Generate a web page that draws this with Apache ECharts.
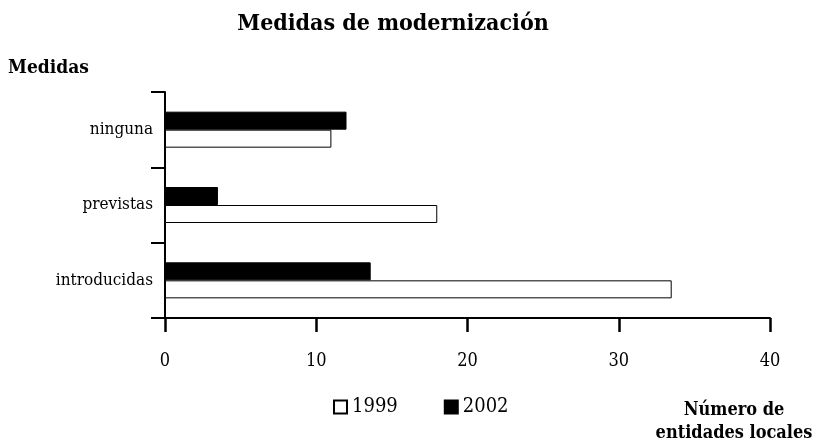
<!DOCTYPE html>
<html><head><meta charset="utf-8">
<script src="https://cdn.jsdelivr.net/npm/echarts@6/dist/echarts.min.js"></script>
<style>html,body{margin:0;padding:0;background:#fff}#c{width:814px;height:444px}</style>
</head><body><div id="c"></div>
<script>
var categories = ['introducidas', 'previstas', 'ninguna'];
var values1999 = [33.5, 18, 11];
var values2002 = [13.6, 3.5, 12];
var xTicks = [0, 10, 20, 30, 40];

var serif = '"DejaVu Serif Condensed", "DejaVu Serif", serif';
var chart = echarts.init(document.getElementById('c'));
chart.setOption({
  animation: false,
  backgroundColor: '#fff',
  title: [
    { text: 'Medidas de modernización', left: 388, top: 8, textAlign: 'center',
      textStyle: { fontFamily: serif, fontWeight: 'bold', fontSize: 23, color: '#000' } },
    { text: 'Medidas', left: 3, top: 54,
      textStyle: { fontFamily: serif, fontWeight: 'bold', fontSize: 19, color: '#000' } },
    { text: 'Número de\nentidades locales', left: 729, top: 394, textAlign: 'center',
      textStyle: { fontFamily: serif, fontWeight: 'bold', fontSize: 18, color: '#000', lineHeight: 23, align: 'center' } }
  ],
  legend: {
    left: 333, top: 397, padding: 0, itemGap: 46, itemWidth: 13, itemHeight: 13, icon: 'rect',
    data: ['1999', '2002'],
    textStyle: { fontFamily: serif, fontSize: 20, color: '#000' }
  },
  grid: { left: 165, right: 44, top: 92, bottom: 126, containLabel: false },
  xAxis: {
    type: 'value', min: xTicks[0], max: xTicks[xTicks.length - 1], interval: 10,
    axisLine: { show: true, lineStyle: { color: '#000', width: 2 } },
    axisTick: { show: true, length: 14, lineStyle: { color: '#000000', width: 2.5 } },
    splitLine: { show: false },
    axisLabel: { fontFamily: serif, fontSize: 18, color: '#000', margin: 34 }
  },
  yAxis: {
    type: 'category', data: categories,
    axisLine: { show: true, lineStyle: { color: '#000', width: 2 } },
    axisTick: { show: true, length: 14, lineStyle: { color: '#000', width: 2 } },
    axisLabel: { fontFamily: serif, fontSize: 17, color: '#000', margin: 12 }
  },
  series: [
    { name: '2002', type: 'bar', data: values2002, barWidth: 18, barGap: '0%',
      itemStyle: { color: '#000', borderColor: '#000', borderWidth: 1 } },
    { name: '1999', type: 'bar', data: values1999, barWidth: 18, barGap: '0%',
      itemStyle: { color: '#fff', borderColor: '#000', borderWidth: 1 } }
  ]
});
</script></body></html>
